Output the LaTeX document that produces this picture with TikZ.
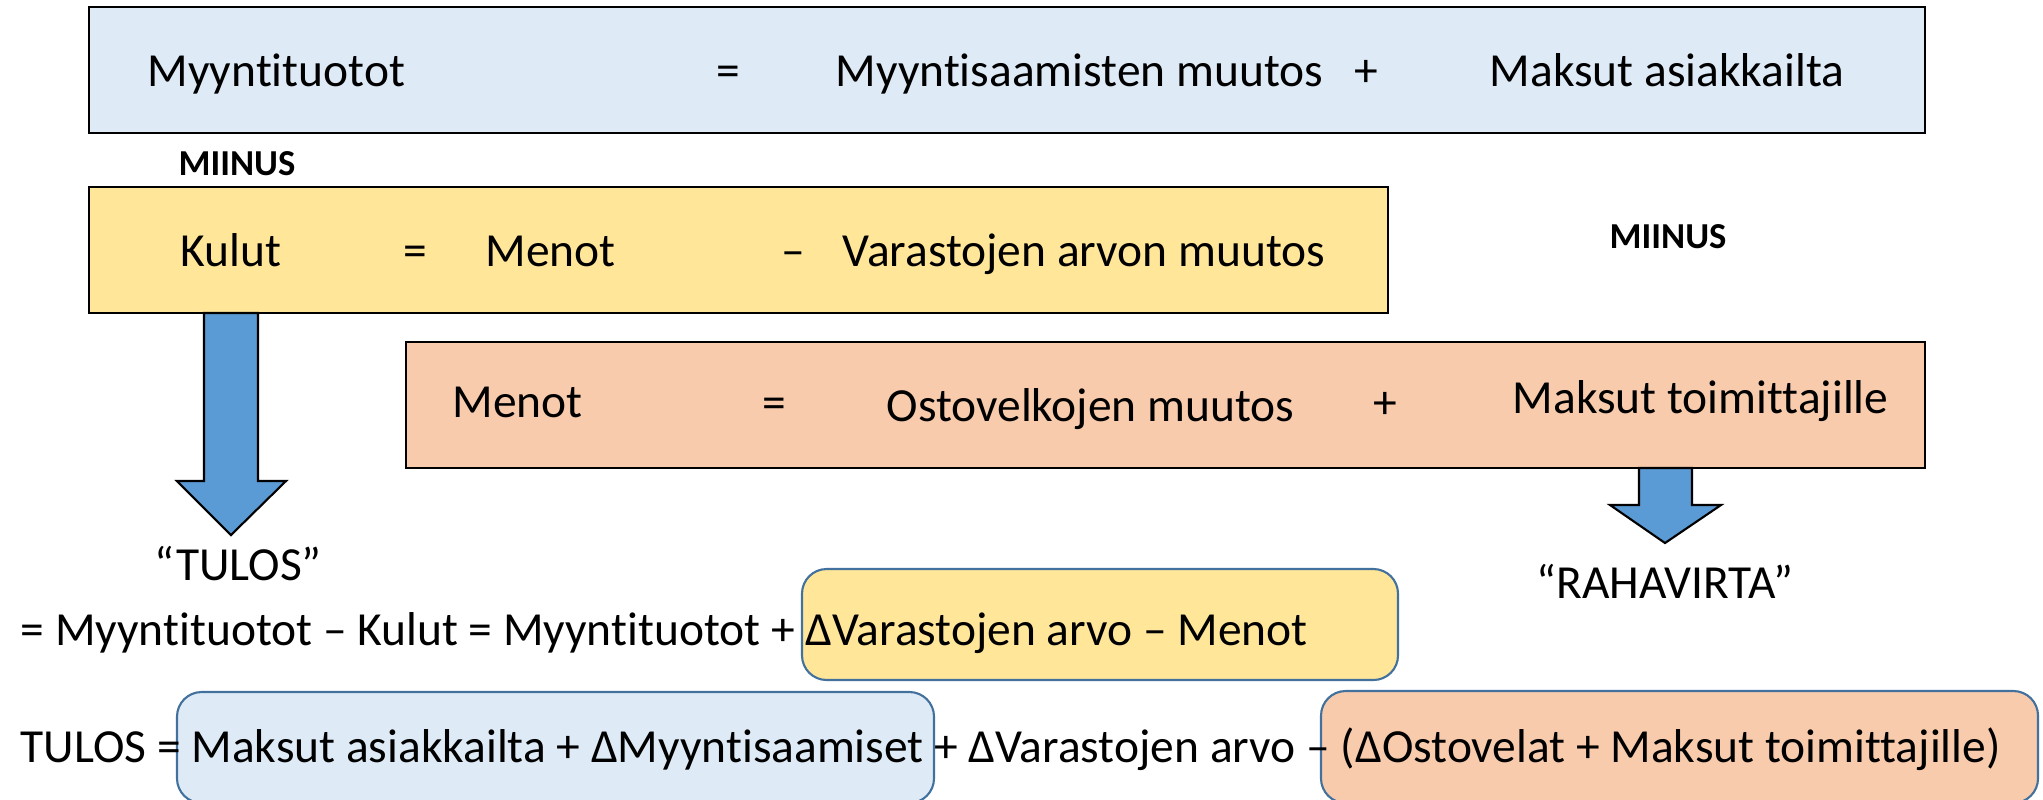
\documentclass[tikz,border=0pt]{standalone}
\usepackage{fontspec}
\setmainfont{Carlito}[Ligatures={TeX,NoCommon}]
\usepackage{tikz}
\usetikzlibrary{positioning}
\usepackage{xcolor}

\definecolor{tuloblue}{HTML}{DEEBF7}
\definecolor{kuluyellow}{HTML}{FFE699}
\definecolor{menoorange}{HTML}{F8CBAD}
\definecolor{arrowblue}{HTML}{5B9BD5}
\definecolor{edgeblue}{HTML}{41719C}

\tikzset{
  eqbox/.style={draw=black, line width=0.75pt},
  sumbox/.style={draw=edgeblue, line width=0.6pt, rounded corners=7pt},
  word/.style={inner sep=0pt, anchor=base west, font=\fontsize{13.5}{16}\selectfont},
  sign/.style={inner sep=0pt, anchor=base, font=\fontsize{13.5}{16}\selectfont},
  miinus/.style={inner sep=0pt, anchor=base, font=\fontsize{10.4}{12}\selectfont\bfseries},
  blockarrow/.style={draw=black, fill=arrowblue, line width=0.6pt, line join=miter},
}

\begin{document}
\begin{tikzpicture}[x=0.01cm, y=-0.01cm]
\useasboundingbox (0,0) rectangle (2043,799);
\clip (0,0) rectangle (2043,799);

% the three equations
\draw[eqbox, fill=tuloblue] (89,7) rectangle (1925,133);
\draw[eqbox, fill=kuluyellow] (89,187) rectangle (1388,313);
\draw[eqbox, fill=menoorange] (406,342) rectangle (1925,468);

\node[word] (myynti) at (147,86) {Myyntituotot};
\node[sign] (eq1) at (728,86) {=};
\node[word] (saamiset) at (835,86) {Myyntisaamisten muutos};
\node[sign] (plus1) at (1366,86) {+};
\node[word] (asiakkaat) at (1489,86) {Maksut asiakkailta};

\node[miinus] (miinus1) at (237,175) {MIINUS};

\node[word] (kulut) at (180,266) {Kulut};
\node[sign] (eq2) at (415,266) {=};
\node[word] (menot1) at (485,266) {Menot};
\node[sign] (minus2) at (793,266) {–};
\node[word] (varasto) at (842,266) {Varastojen arvon muutos};

\node[miinus] (miinus2) at (1668,248) {MIINUS};

\node[word] (menot2) at (452,417) {Menot};
\node[sign] (eq3) at (774,418) {=};
\node[word] (ostovelat) at (886,421) {Ostovelkojen muutos};
\node[sign] (plus3) at (1385,418) {+};
\node[word] (toimittajat) at (1512,413) {Maksut toimittajille};

% block arrows down to the results
\draw[blockarrow] (204,313) -- (204,481) -- (177,481) -- (231,535)
  -- (286,481) -- (258,481) -- (258,313) -- cycle;
\draw[blockarrow] (1639,468) -- (1639,505) -- (1610,505) -- (1665,543)
  -- (1721,505) -- (1692,505) -- (1692,468) -- cycle;

\node[sign] (tulos) at (238,580) {“TULOS”};
\node[sign] (rahavirta) at (1665,598) {“RAHAVIRTA”};

% highlighted parts behind the result lines
\draw[sumbox, fill=kuluyellow] (802,569) rectangle (1398,680);
\draw[sumbox, fill=tuloblue] (177,692) rectangle (934,803);
\draw[sumbox, fill=menoorange] (1321,691) rectangle (2038,803);

\node[word] (rivi1) at (20,645)
  {= Myyntituotot – Kulut = Myyntituotot + ΔVarastojen arvo – Menot};
\node[word] (rivi2) at (20,762)
  {TULOS = Maksut asiakkailta + ΔMyyntisaamiset + ΔVarastojen arvo – (ΔOstovelat + Maksut toimittajille)};
\end{tikzpicture}
\end{document}
